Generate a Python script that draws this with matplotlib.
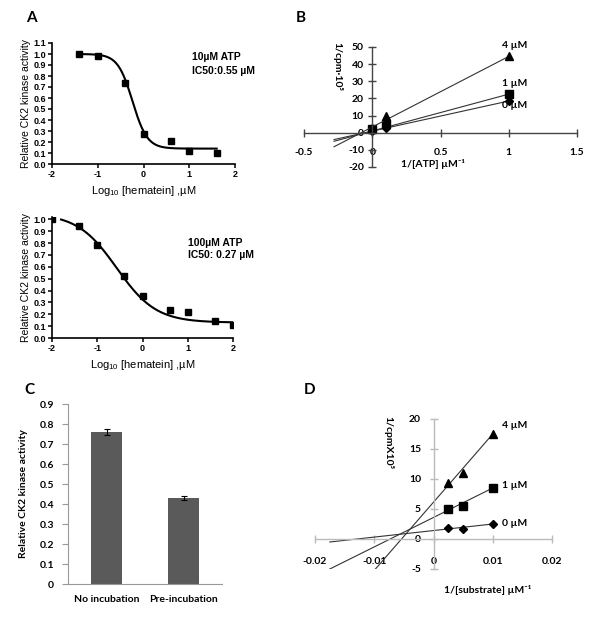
import numpy as np
import matplotlib
matplotlib.use('Agg')
import matplotlib.pyplot as plt

plt.rcParams['axes.unicode_minus'] = False

W, H = 600, 626
ARIAL = ['Liberation Sans', 'DejaVu Sans']
CALI = ['Lato', 'DejaVu Sans']

# panel A - dose response, 10 uM ATP
logc_a1 = [-1.4, -1.0, -0.4, 0.0, 0.6, 1.0, 1.6]
act_a1 = [1.00, 0.98, 0.74, 0.27, 0.21, 0.12, 0.10]
fit_a1 = dict(top=1.0, bottom=0.14, logic50=-0.24, hill=2.7, x0=-1.4, x1=1.6)

# panel A - dose response, 100 uM ATP
logc_a2 = [-2.0, -1.4, -1.0, -0.4, 0.0, 0.6, 1.0, 1.6, 2.0]
act_a2 = [1.00, 0.94, 0.78, 0.52, 0.35, 0.24, 0.22, 0.14, 0.11]
fit_a2 = dict(top=1.05, bottom=0.13, logic50=-0.57, hill=1.0, x0=-1.8, x1=2.0)

# panel B - lineweaver-burk vs ATP
inv_atp = [0.0, 0.1, 1.0]
b_series = {
    '0 µM': [1.0, 2.6, 18.5],
    '1 µM': [2.0, 5.0, 22.5],
    '4 µM': [2.5, 9.8, 44.5],
}
b_lines = {  # x_start, y_start, x_end, y_end
    '0 µM': (-0.28, -4.0, 1.0, 18.5),
    '1 µM': (-0.28, -5.0, 1.0, 22.5),
    '4 µM': (-0.28, -8.2, 1.0, 44.5),
}
b_markers = {'0 µM': 'D', '1 µM': 's', '4 µM': '^'}
b_msize = {'0 µM': 4, '1 µM': 6, '4 µM': 6}

# panel C - bars
c_labels = ['No incubation', 'Pre-incubation']
c_values = [0.76, 0.43]
c_err = [0.015, 0.01]

# panel D - lineweaver-burk vs substrate
inv_sub = [0.0025, 0.005, 0.01]
d_series = {
    '0 µM': [1.8, 1.7, 2.5],
    '1 µM': [5.0, 5.5, 8.5],
    '4 µM': [9.3, 11.0, 17.5],
}
d_lines = {
    '0 µM': (-0.0175, -0.5, 0.01, 2.5),
    '1 µM': (-0.0175, -5.0, 0.01, 8.5),
    '4 µM': (-0.0098, -5.0, 0.01, 17.5),
}


def rect(l, t, r, b):
    return [l / W, 1 - b / H, (r - l) / W, (b - t) / H]


def ftxt(x, y, s, **kw):
    kw.setdefault('va', 'center')
    fig.text(x / W, 1 - y / H, s, **kw)


def fourpl(p):
    x = np.linspace(p['x0'], p['x1'], 200)
    y = p['bottom'] + (p['top'] - p['bottom']) / (1 + 10 ** ((x - p['logic50']) * p['hill']))
    return x, y


fig = plt.figure(figsize=(6, 6.26), dpi=100)


def prism_axes(ax, ylim, yticks):
    ax.set_xlim(-2, 2)
    ax.set_ylim(*ylim)
    ax.set_xticks([-2, -1, 0, 1, 2])
    ax.set_yticks(yticks)
    ax.set_yticklabels(['%.1f' % v for v in yticks])
    for s in ['top', 'right']:
        ax.spines[s].set_visible(False)
    for s in ['left', 'bottom']:
        ax.spines[s].set_linewidth(1.2)
    ax.tick_params(direction='out', length=3, width=1.1, pad=1)
    for t in ax.get_xticklabels() + ax.get_yticklabels():
        t.set_family(ARIAL)
        t.set_fontweight('bold')
        t.set_fontsize(6.5)
    ax.set_ylabel('Relative CK2 kinase activity', family=ARIAL, fontsize=7.5, labelpad=2)
    ax.set_xlabel('Log$_\\mathregular{10}$ [hematein] ,µM', family=ARIAL, fontsize=8, labelpad=4)


# ---- A top
ax1 = fig.add_axes(rect(52, 43, 235, 164))
x, y = fourpl(fit_a1)
ax1.plot(x, y, color='black', lw=1.5)
ax1.plot(logc_a1, act_a1, 's', color='black', ms=5, ls='none')
prism_axes(ax1, (0, 1.1), np.round(np.arange(0, 1.11, 0.1), 1))
ftxt(192, 57, '10µM ATP', family=ARIAL, fontsize=7.5, fontweight='bold')
ftxt(192, 71, 'IC50:0.55 µM', family=ARIAL, fontsize=7.5, fontweight='bold')

# ---- A bottom
ax2 = fig.add_axes(rect(52, 217, 233, 338))
x, y = fourpl(fit_a2)
ax2.plot(x, y, color='black', lw=1.5)
ax2.plot(logc_a2, act_a2, 's', color='black', ms=5, ls='none')
prism_axes(ax2, (0, 1.02), np.round(np.arange(0, 1.01, 0.1), 1))
ftxt(188, 243, '100µM ATP', family=ARIAL, fontsize=7.5, fontweight='bold')
ftxt(188, 255, 'IC50: 0.27 µM', family=ARIAL, fontsize=7.5, fontweight='bold')


def excel_axes(ax, color):
    ax.spines['left'].set_position(('data', 0))
    ax.spines['bottom'].set_position(('data', 0))
    for s in ['top', 'right']:
        ax.spines[s].set_visible(False)
    for s in ['left', 'bottom']:
        ax.spines[s].set_color(color)
        ax.spines[s].set_linewidth(1.0)
    ax.tick_params(direction='inout', length=6, width=1.0, color=color)


# ---- B
ax3 = fig.add_axes(rect(304, 47, 577, 167))
for k in b_series:
    x0, y0, x1, y1 = b_lines[k]
    ax3.plot([x0, x1], [y0, y1], color='#333333', lw=0.8)
    ax3.plot(inv_atp, b_series[k], b_markers[k], color='black', ms=b_msize[k], ls='none')
ax3.set_xlim(-0.5, 1.5)
ax3.set_ylim(-20, 50)
ax3.set_xticks([-0.5, 0, 0.5, 1, 1.5])
ax3.set_xticklabels(['-0.5', '0', '0.5', '1', '1.5'])
ax3.set_yticks([-20, -10, 0, 10, 20, 30, 40, 50])
excel_axes(ax3, '#444444')
ax3.tick_params(axis='x', pad=8)
ax3.tick_params(axis='y', pad=3)
for t in ax3.get_xticklabels() + ax3.get_yticklabels():
    t.set_family(CALI)
    t.set_fontweight('bold')
    t.set_fontsize(7.5)
ftxt(337, 67, '1/cpm·10⁵', family=CALI, fontsize=7.5, fontweight='bold', rotation=270, ha='center')
ftxt(433, 164, '1/[ATP] µM⁻¹', family=CALI, fontsize=7.5, fontweight='bold', ha='center')
ftxt(502, 46, '4 µM', family=CALI, fontsize=7.5, fontweight='bold')
ftxt(502, 84, '1 µM', family=CALI, fontsize=7.5, fontweight='bold')
ftxt(502, 106, '0 µM', family=CALI, fontsize=7.5, fontweight='bold')

# ---- C
ax4 = fig.add_axes(rect(68, 404, 222, 584))
ax4.bar(range(len(c_values)), c_values, width=0.4, color='#5a5a5a',
        yerr=c_err, capsize=2, error_kw=dict(ecolor='black', elinewidth=0.8, capthick=0.8))
ax4.set_xlim(-0.5, 1.5)
ax4.set_ylim(0, 0.9)
ax4.set_yticks(np.round(np.arange(0, 0.91, 0.1), 1))
ax4.set_yticklabels(['0'] + ['%.1f' % v for v in np.arange(0.1, 0.91, 0.1)])
ax4.set_xticks(range(len(c_labels)))
ax4.set_xticklabels(c_labels)
for s in ['top', 'right']:
    ax4.spines[s].set_visible(False)
for s in ['left', 'bottom']:
    ax4.spines[s].set_color('#999999')
ax4.tick_params(axis='y', direction='out', length=4, color='#999999', pad=6)
ax4.tick_params(axis='x', length=0, pad=8)
for t in ax4.get_xticklabels() + ax4.get_yticklabels():
    t.set_family(CALI)
    t.set_fontweight('bold')
    t.set_fontsize(7.5)
ax4.set_ylabel('Relative CK2 kinase activity', family=CALI, fontsize=7.5, fontweight='bold', labelpad=8)

# ---- D
ax5 = fig.add_axes(rect(315, 419, 552, 569))
for k in d_series:
    x0, y0, x1, y1 = d_lines[k]
    ax5.plot([x0, x1], [y0, y1], color='#333333', lw=0.8)
    ax5.plot(inv_sub, d_series[k], b_markers[k], color='black', ms=b_msize[k], ls='none')
ax5.set_xlim(-0.02, 0.02)
ax5.set_ylim(-5, 20)
ax5.set_xticks([-0.02, -0.01, 0, 0.01, 0.02])
ax5.set_xticklabels(['-0.02', '-0.01', '0', '0.01', '0.02'])
ax5.set_yticks([-5, 0, 5, 10, 15, 20])
excel_axes(ax5, '#bbbbbb')
ax5.tick_params(axis='x', pad=10)
ax5.tick_params(axis='y', pad=6)
for t in ax5.get_xticklabels() + ax5.get_yticklabels():
    t.set_family(CALI)
    t.set_fontweight('bold')
    t.set_fontsize(7.5)
ftxt(388, 443, '1/cpmX10⁵', family=CALI, fontsize=7.5, fontweight='bold', rotation=270, ha='center')
ftxt(488, 590, '1/[substrate] µM⁻¹', family=CALI, fontsize=7.5, fontweight='bold', ha='center')
ftxt(502, 425, '4 µM', family=CALI, fontsize=7.5, fontweight='bold')
ftxt(502, 486, '1 µM', family=CALI, fontsize=7.5, fontweight='bold')
ftxt(502, 523, '0 µM', family=CALI, fontsize=7.5, fontweight='bold')

# panel letters
for lx, ly, s in [(26, 18, 'A'), (296, 18, 'B'), (24, 390, 'C'), (304, 390, 'D')]:
    ftxt(lx, ly, s, family=CALI, fontsize=11, fontweight='bold')

fig.savefig('out.png', dpi=100)
